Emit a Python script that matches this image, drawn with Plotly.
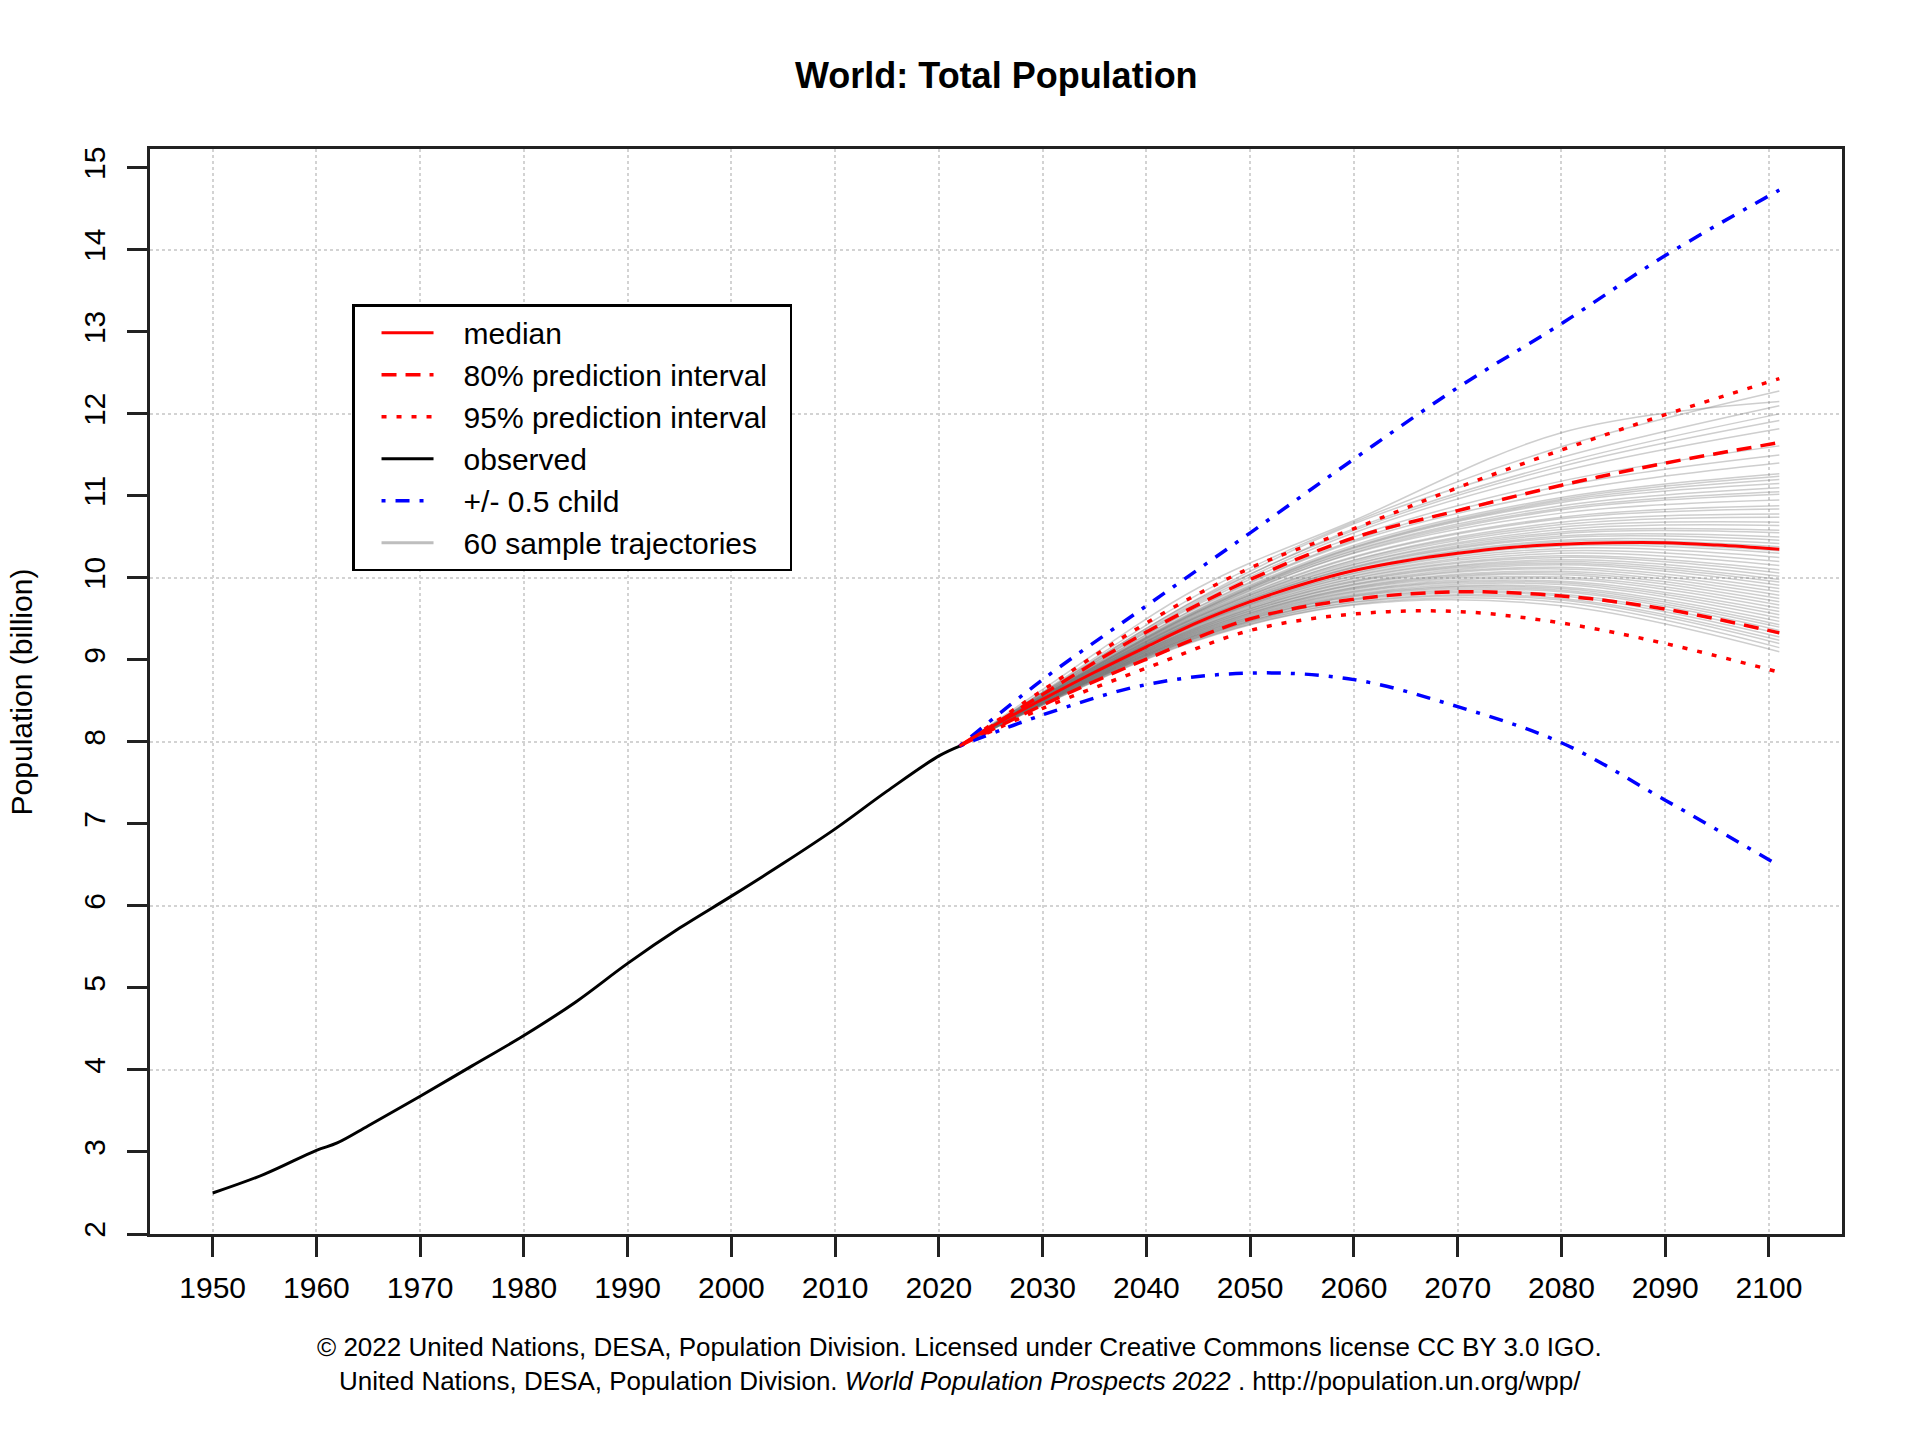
import plotly.graph_objects as go

# observed world population (billion)
obs_years = [1950, 1955, 1960, 1962, 1965, 1970, 1975, 1980, 1985, 1990, 1995,
             2000, 2005, 2010, 2015, 2020, 2022]
obs_pop = [2.50, 2.73, 3.02, 3.11, 3.32, 3.68, 4.05, 4.42, 4.83, 5.30, 5.73,
           6.12, 6.52, 6.94, 7.40, 7.83, 7.95]

# median projection
med_years = [2022, 2025, 2030, 2035, 2040, 2045, 2050, 2055, 2060, 2065, 2070,
             2075, 2080, 2085, 2090, 2095, 2101]
med_pop = [7.95, 8.18, 8.52, 8.85, 9.16, 9.46, 9.71, 9.92, 10.09, 10.21, 10.30,
           10.37, 10.41, 10.43, 10.43, 10.40, 10.35]

# intervals
pi_years = [2022, 2030, 2040, 2050, 2060, 2070, 2080, 2090, 2101]
pi80_up = [7.95, 8.58, 9.34, 9.98, 10.49, 10.82, 11.13, 11.40, 11.65]
pi80_lo = [7.95, 8.45, 9.01, 9.50, 9.74, 9.83, 9.78, 9.62, 9.33]
pi95_up = [7.95, 8.63, 9.45, 10.12, 10.60, 11.10, 11.56, 11.99, 12.43]
pi95_lo = [7.95, 8.41, 8.90, 9.36, 9.56, 9.59, 9.45, 9.20, 8.85]
half_child_up = [7.95, 8.76, 9.66, 10.55, 11.45, 12.32, 13.10, 13.93, 14.73]
half_child_lo = [7.95, 8.33, 8.70, 8.84, 8.76, 8.43, 7.99, 7.29, 6.49]

# 60 sample trajectories
sample_years = [2022, 2030, 2045, 2060, 2080, 2101]
sample_values = [
    [7.95, 8.64, 9.88, 10.70, 11.77, 12.15],
    [7.95, 8.61, 9.80, 10.68, 11.60, 12.28],
    [7.95, 8.60, 9.75, 10.66, 11.47, 12.10],
    [7.95, 8.59, 9.72, 10.60, 11.40, 12.00],
    [7.95, 8.60, 9.74, 10.58, 11.36, 11.92],
    [7.95, 8.58, 9.70, 10.55, 11.30, 11.82],
    [7.95, 8.58, 9.68, 10.50, 11.18, 11.61],
    [7.95, 8.57, 9.65, 10.46, 11.12, 11.50],
    [7.95, 8.57, 9.64, 10.44, 11.05, 11.40],
    [7.95, 8.56, 9.62, 10.40, 10.98, 11.27],
    [7.95, 8.56, 9.61, 10.38, 10.96, 11.24],
    [7.95, 8.55, 9.60, 10.37, 10.94, 11.20],
    [7.95, 8.56, 9.59, 10.36, 10.92, 11.15],
    [7.95, 8.55, 9.59, 10.34, 10.88, 11.10],
    [7.95, 8.55, 9.58, 10.33, 10.85, 11.05],
    [7.95, 8.54, 9.57, 10.31, 10.83, 11.02],
    [7.95, 8.55, 9.56, 10.30, 10.79, 10.95],
    [7.95, 8.54, 9.55, 10.26, 10.74, 10.88],
    [7.95, 8.54, 9.54, 10.25, 10.72, 10.84],
    [7.95, 8.53, 9.53, 10.22, 10.68, 10.78],
    [7.95, 8.54, 9.53, 10.21, 10.65, 10.74],
    [7.95, 8.53, 9.52, 10.19, 10.62, 10.68],
    [7.95, 8.53, 9.51, 10.17, 10.59, 10.64],
    [7.95, 8.52, 9.50, 10.16, 10.56, 10.58],
    [7.95, 8.53, 9.49, 10.14, 10.54, 10.55],
    [7.95, 8.52, 9.49, 10.13, 10.51, 10.50],
    [7.95, 8.52, 9.48, 10.12, 10.49, 10.46],
    [7.95, 8.52, 9.47, 10.10, 10.46, 10.42],
    [7.95, 8.53, 9.47, 10.09, 10.44, 10.38],
    [7.95, 8.52, 9.46, 10.08, 10.41, 10.33],
    [7.95, 8.52, 9.45, 10.06, 10.39, 10.30],
    [7.95, 8.51, 9.44, 10.05, 10.36, 10.25],
    [7.95, 8.51, 9.44, 10.03, 10.33, 10.20],
    [7.95, 8.51, 9.43, 10.02, 10.30, 10.15],
    [7.95, 8.50, 9.42, 10.00, 10.27, 10.10],
    [7.95, 8.51, 9.41, 9.99, 10.25, 10.06],
    [7.95, 8.50, 9.40, 9.97, 10.22, 10.02],
    [7.95, 8.50, 9.40, 9.96, 10.20, 9.98],
    [7.95, 8.50, 9.39, 9.95, 10.18, 9.95],
    [7.95, 8.49, 9.38, 9.93, 10.16, 9.91],
    [7.95, 8.50, 9.38, 9.92, 10.13, 9.87],
    [7.95, 8.49, 9.37, 9.91, 10.11, 9.83],
    [7.95, 8.49, 9.36, 9.89, 10.08, 9.79],
    [7.95, 8.49, 9.36, 9.88, 10.06, 9.75],
    [7.95, 8.48, 9.35, 9.87, 10.04, 9.71],
    [7.95, 8.49, 9.34, 9.86, 10.01, 9.67],
    [7.95, 8.48, 9.34, 9.84, 9.99, 9.63],
    [7.95, 8.48, 9.33, 9.83, 9.96, 9.59],
    [7.95, 8.48, 9.32, 9.82, 9.94, 9.55],
    [7.95, 8.47, 9.32, 9.80, 9.92, 9.51],
    [7.95, 8.48, 9.31, 9.79, 9.89, 9.47],
    [7.95, 8.47, 9.30, 9.78, 9.87, 9.43],
    [7.95, 8.47, 9.30, 9.77, 9.85, 9.40],
    [7.95, 8.47, 9.29, 9.75, 9.83, 9.36],
    [7.95, 8.46, 9.28, 9.74, 9.80, 9.32],
    [7.95, 8.47, 9.28, 9.73, 9.78, 9.28],
    [7.95, 8.46, 9.27, 9.71, 9.75, 9.24],
    [7.95, 8.46, 9.26, 9.70, 9.73, 9.20],
    [7.95, 8.45, 9.25, 9.68, 9.70, 9.15],
    [7.95, 8.45, 9.24, 9.67, 9.66, 9.10],
]

x_ticks = list(range(1950, 2101, 10))
y_ticks = list(range(2, 16))
y_grid = list(range(2, 15, 2))
x_range = [1943.96, 2107.04]
y_range = [2.0, 15.23]

BOX = "#222222"
FONT = "Liberation Sans, Arial, Helvetica, sans-serif"
PAD = "\u00a0\u00a0\u00a0"  # gap between legend key and label
TAIL = "\u00a0\u00a0"


def label(s):
    return PAD + s + TAIL


fig = go.Figure()

# empty trace so the overlaid grid axis gets drawn
fig.add_trace(go.Scatter(x=obs_years[:1], y=obs_pop[:1], yaxis="y2", mode="lines",
                         showlegend=False, hoverinfo="skip"))

for vals in sample_values:
    fig.add_trace(go.Scatter(
        x=sample_years, y=vals, mode="lines", line_shape="spline",
        line=dict(color="rgba(110,110,110,0.34)", width=1.5),
        showlegend=False,
    ))
# legend key for trajectories
fig.add_trace(go.Scatter(
    x=sample_years[:1], y=sample_values[0][:1], mode="lines",
    line=dict(color="#bebebe", width=3),
    name=label("60 sample trajectories"), showlegend=True, legendrank=6,
))

fig.add_trace(go.Scatter(x=obs_years, y=obs_pop, mode="lines", line_shape="spline",
                         line=dict(color="black", width=3),
                         name=label("observed"), legendrank=4))

dash80 = "15px,9px"
dot95 = "5px,10px"
dashdot = "4px,10px,14px,10px"

fig.add_trace(go.Scatter(x=pi_years, y=pi95_up, mode="lines", line_shape="spline",
                         line=dict(color="red", width=3.5, dash=dot95),
                         name=label("95% prediction interval"), legendrank=3))
fig.add_trace(go.Scatter(x=pi_years, y=pi95_lo, mode="lines", line_shape="spline",
                         line=dict(color="red", width=3.5, dash=dot95),
                         showlegend=False))
fig.add_trace(go.Scatter(x=pi_years, y=pi80_up, mode="lines", line_shape="spline",
                         line=dict(color="red", width=3.5, dash=dash80),
                         name=label("80% prediction interval"), legendrank=2))
fig.add_trace(go.Scatter(x=pi_years, y=pi80_lo, mode="lines", line_shape="spline",
                         line=dict(color="red", width=3.5, dash=dash80),
                         showlegend=False))
fig.add_trace(go.Scatter(x=pi_years, y=half_child_up, mode="lines", line_shape="spline",
                         line=dict(color="blue", width=3.5, dash=dashdot),
                         name=label("+/- 0.5 child"), legendrank=5))
fig.add_trace(go.Scatter(x=pi_years, y=half_child_lo, mode="lines", line_shape="spline",
                         line=dict(color="blue", width=3.5, dash=dashdot),
                         showlegend=False))
fig.add_trace(go.Scatter(x=med_years, y=med_pop, mode="lines", line_shape="spline",
                         line=dict(color="red", width=3),
                         name=label("median"), legendrank=1))

fig.update_layout(
    width=1920, height=1439,
    margin=dict(l=150, r=78, t=149, b=205, autoexpand=False),
    paper_bgcolor="white", plot_bgcolor="white",
    font=dict(family=FONT, color="black", size=30),
    hovermode=False,
    xaxis=dict(
        range=x_range, tickmode="array", tickvals=x_ticks,
        ticks="outside", ticklen=20, tickwidth=2.5, tickcolor=BOX,
        tickfont=dict(size=30), ticklabelstandoff=5,
        showline=True, linecolor=BOX, linewidth=2.5,
        mirror=True, showgrid=True, gridcolor="#d3d3d3", griddash="dot",
        gridwidth=2, zeroline=False, automargin=False,
    ),
    yaxis=dict(
        range=y_range, tickmode="array", tickvals=y_ticks,
        ticks="outside", ticklen=20, tickwidth=2.5, tickcolor=BOX,
        tickangle=-90, tickfont=dict(size=30), ticklabelstandoff=10,
        showline=True, linecolor=BOX, linewidth=2.5, mirror=True,
        showgrid=False, zeroline=False, automargin=False,
    ),
    yaxis2=dict(
        range=y_range, overlaying="y", tickmode="array", tickvals=y_grid,
        showticklabels=False, ticks="", showline=False, zeroline=False,
        showgrid=True, gridcolor="#d3d3d3", griddash="dot", gridwidth=2,
        automargin=False,
    ),
    legend=dict(
        x=0.1194, y=0.857, xanchor="left", yanchor="top",
        bordercolor="black", borderwidth=2.5, bgcolor="white",
        font=dict(size=30), tracegroupgap=0, itemwidth=52, indentation=22,
    ),
)

fig.add_annotation(text="<b>World: Total Population</b>", xref="paper", yref="paper",
                   x=0.5, y=1.0673, xanchor="center", yanchor="middle",
                   showarrow=False, font=dict(size=36))
fig.add_annotation(text="Population (billion)", xref="paper", yref="paper",
                   x=-0.0757, y=0.5, xanchor="center", yanchor="middle",
                   textangle=-90, showarrow=False, font=dict(size=30))
fig.add_annotation(text="\u00a9 2022 United Nations, DESA, Population Division. Licensed under Creative Commons license CC BY 3.0 IGO.",
                   xref="paper", yref="paper", x=0.4787, y=-0.1037,
                   xanchor="center", yanchor="middle", showarrow=False,
                   font=dict(size=26))
fig.add_annotation(text="United Nations, DESA, Population Division. <i>World Population Prospects 2022</i> . http://population.un.org/wpp/",
                   xref="paper", yref="paper", x=0.4787, y=-0.1359,
                   xanchor="center", yanchor="middle", showarrow=False,
                   font=dict(size=26))

fig.write_html("out.html", config={"displayModeBar": False},
               post_script="document.body.style.margin='0';")
